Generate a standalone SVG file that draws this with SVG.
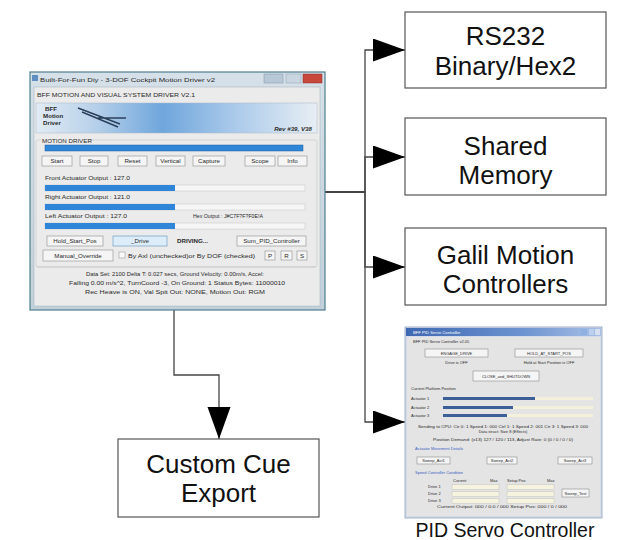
<svg xmlns="http://www.w3.org/2000/svg" width="618" height="540" viewBox="0 0 618 540">
<style>
.ui{font-family:"Liberation Sans",Arial,sans-serif;font-size:6.2px;fill:#2a2a2a}
.ps{font-family:"Liberation Sans",Arial,sans-serif;font-size:4px;fill:#2a2a2a}
.pb{font-family:"Liberation Sans",Arial,sans-serif;font-size:4px;fill:#3a5fc0}
.btn{fill:#f5f5f5;stroke:#8c8c8c;stroke-width:0.6}
.track{fill:#f6f6f6;stroke:#c4c4c4;stroke-width:0.5}
.fill{fill:#2f86d8}
.ptrack{fill:#f3f0dc}
.pfill{fill:#3d5f98}
.field{fill:#f6f3df;stroke:#b8b8b8;stroke-width:0.4}
.box{fill:#fff;stroke:#555;stroke-width:1.2}
.lbl{font-family:"Liberation Sans",Arial,sans-serif;font-size:26px;fill:#111;text-anchor:middle}
.conn{fill:none;stroke:#444;stroke-width:1.3}
.mid{text-anchor:middle}
</style>
<defs>
<marker id="ah" markerUnits="userSpaceOnUse" markerWidth="33" markerHeight="24" refX="32" refY="11.5" orient="auto">
<path d="M0,0 L32,11.5 L0,23 z" fill="#000"/>
</marker>
<linearGradient id="banner" x1="0" y1="0" x2="1" y2="0">
<stop offset="0" stop-color="#e2ebf4"/>
<stop offset="0.2" stop-color="#b9d2ea"/>
<stop offset="0.45" stop-color="#6fa6dc"/>
<stop offset="0.7" stop-color="#a9c9ea"/>
<stop offset="1" stop-color="#e8eef4"/>
</linearGradient>
<linearGradient id="frame" x1="0" y1="0" x2="0" y2="1">
<stop offset="0" stop-color="#d5e0e8"/>
<stop offset="1" stop-color="#c2d0da"/>
</linearGradient>
<linearGradient id="ptitle" x1="0" y1="0" x2="1" y2="0">
<stop offset="0" stop-color="#3e68b2"/>
<stop offset="0.6" stop-color="#6d93d0"/>
<stop offset="1" stop-color="#a8c0e6"/>
</linearGradient>
</defs>

<g id="connectors">
<path class="conn" d="M325,192 H365 V50 H405" marker-end="url(#ah)"/>
<path class="conn" d="M325,192 H365 V157 H405" marker-end="url(#ah)"/>
<path class="conn" d="M325,192 H365 V267 H405" marker-end="url(#ah)"/>
<path class="conn" d="M325,192 H365 V422 H405" marker-end="url(#ah)"/>
<path class="conn" d="M174,310 V375 H219 V439" marker-end="url(#ah)"/>
</g>

<g id="main-window">
<rect x="30" y="72" width="295" height="238" fill="url(#frame)" stroke="#4f7f90" stroke-width="1.2"/>
<rect x="32" y="75" width="6" height="6" fill="#5f8fc0"/>
<text class="ui" x="40" y="81.5" textLength="175" lengthAdjust="spacingAndGlyphs">Built-For-Fun Diy - 3-DOF Cockpit Motion Driver v2</text>
<rect x="264" y="74" width="19" height="9" fill="#b9c8d6" stroke="#7f95a8" stroke-width="0.5"/>
<rect x="286" y="74" width="15" height="9" fill="#c9d6e0" stroke="#8fa3b4" stroke-width="0.5"/>
<rect x="303" y="74" width="19" height="9" fill="#c7483c" stroke="#8a2f28" stroke-width="0.5"/>
<rect x="34" y="87" width="286" height="219" fill="#ebebeb" stroke="#9fb0bc" stroke-width="0.5"/>
<text class="ui" x="37" y="97" textLength="158" lengthAdjust="spacingAndGlyphs">BFF MOTION AND VISUAL SYSTEM DRIVER V2.1</text>
<rect x="36" y="103" width="281" height="30" fill="url(#banner)" stroke="#a9b8c6" stroke-width="0.5"/>
<text class="ui" x="45" y="111" font-size="4.8" font-weight="bold">BFF</text>
<text class="ui" x="43" y="118" font-size="4.8" font-weight="bold">Motion</text>
<text class="ui" x="43" y="125" font-size="4.8" font-weight="bold">Driver</text>
<path d="M78,108 L120,124 M82,112 L118,127 M98,118 L126,118" stroke="#2a3f5a" stroke-width="1.4" fill="none"/>
<text class="ui" x="312" y="131" font-size="5" font-weight="bold" font-style="italic" text-anchor="end">Rev #39, V38</text>
<rect x="36" y="140" width="281" height="127" rx="2" fill="none" stroke="#c9c9c9" stroke-width="0.7"/>
<rect x="41" y="137" width="46" height="6" fill="#ebebeb"/>
<text class="ui" x="42" y="142.5">MOTION DRIVER</text>
<rect x="45" y="145" width="258" height="6" class="fill" stroke="#1e5f9e" stroke-width="0.5"/>
<rect class="btn" x="42" y="156" width="30" height="10"/>
<rect class="btn" x="80" y="156" width="28" height="10"/>
<rect class="btn" x="118" y="156" width="29" height="10"/>
<rect class="btn" x="156" y="156" width="29" height="10"/>
<rect class="btn" x="193" y="156" width="32" height="10"/>
<rect class="btn" x="245" y="156" width="30" height="10"/>
<rect class="btn" x="278" y="156" width="29" height="10"/>
<text class="ui mid" x="57" y="163">Start</text>
<text class="ui mid" x="94" y="163">Stop</text>
<text class="ui mid" x="132.5" y="163">Reset</text>
<text class="ui mid" x="170.5" y="163">Vertical</text>
<text class="ui mid" x="209" y="163">Capture</text>
<text class="ui mid" x="260" y="163">Scope</text>
<text class="ui mid" x="292.5" y="163">Info</text>
<text class="ui" x="45" y="180" textLength="85" lengthAdjust="spacingAndGlyphs">Front Actuator Output : 127.0</text>
<rect class="track" x="45" y="185" width="260" height="6"/>
<rect class="fill" x="45" y="185" width="130" height="6"/>
<text class="ui" x="45" y="199" textLength="85" lengthAdjust="spacingAndGlyphs">Right Actuator Output : 121.0</text>
<rect class="track" x="45" y="204" width="260" height="6"/>
<rect class="fill" x="45" y="204" width="130" height="6"/>
<text class="ui" x="45" y="218" textLength="82" lengthAdjust="spacingAndGlyphs">Left Actuator Output : 127.0</text>
<text class="ui" x="193" y="218" textLength="70" lengthAdjust="spacingAndGlyphs">Hex Output : J#C7F?F?F0E!A</text>
<rect class="track" x="45" y="223" width="260" height="6"/>
<rect class="fill" x="45" y="223" width="130" height="6"/>
<rect class="btn" x="47" y="236" width="56" height="10"/>
<text class="ui mid" x="75" y="243">Hold_Start_Pos</text>
<rect x="113" y="236" width="54" height="10" fill="#dcecf8" stroke="#6f9fc6" stroke-width="0.7"/>
<text class="ui mid" x="140" y="243">_Drive</text>
<text class="ui" x="177" y="243" font-weight="bold">DRIVING...</text>
<rect class="btn" x="237" y="236" width="69" height="10"/>
<text class="ui mid" x="271.5" y="243">Sum_PID_Controller</text>
<rect class="btn" x="43" y="250" width="70" height="11"/>
<text class="ui mid" x="78" y="257.5">Manual_Override</text>
<rect x="119" y="252" width="6" height="6" fill="#fafafa" stroke="#8c8c8c" stroke-width="0.5"/>
<text class="ui" x="128" y="257.5" textLength="127" lengthAdjust="spacingAndGlyphs">By Axl (unchecked)or By DOF (checked)</text>
<rect class="btn" x="265" y="251" width="10" height="9"/>
<rect class="btn" x="281" y="251" width="11" height="9"/>
<rect class="btn" x="297" y="251" width="10" height="9"/>
<text class="ui mid" x="270" y="257.5">P</text>
<text class="ui mid" x="286.5" y="257.5">R</text>
<text class="ui mid" x="302" y="257.5">S</text>
<line x1="37" y1="267" x2="316" y2="267" stroke="#c4c4c4" stroke-width="0.7"/>
<text class="ui mid" x="175" y="276" textLength="178" lengthAdjust="spacingAndGlyphs">Data Set: 2100 Delta T: 0.027 secs, Ground Velocity: 0.00m/s, Accel:</text>
<text class="ui mid" x="177" y="285" textLength="216" lengthAdjust="spacingAndGlyphs">Falling 0.00 m/s^2, TurnCoord -3, On Ground: 1 Status Bytes: 11000010</text>
<text class="ui mid" x="175" y="294" textLength="180" lengthAdjust="spacingAndGlyphs">Rec Heave is ON, Val Spit Out: NONE, Motion Out: RGM</text>
</g>

<g id="rs232">
<rect class="box" x="405" y="12" width="201" height="76"/>
<text class="lbl" x="505.5" y="45">RS232</text>
<text class="lbl" x="505.5" y="75">Binary/Hex2</text>
</g>

<g id="shared-memory">
<rect class="box" x="405" y="118" width="201" height="77"/>
<text class="lbl" x="505.5" y="155">Shared</text>
<text class="lbl" x="505.5" y="184">Memory</text>
</g>

<g id="galil">
<rect class="box" x="405" y="228" width="201" height="77"/>
<text class="lbl" x="505.5" y="264">Galil Motion</text>
<text class="lbl" x="505.5" y="293">Controllers</text>
</g>

<g id="custom-cue">
<rect class="box" x="118" y="439" width="201" height="78"/>
<text class="lbl" x="218.5" y="473">Custom Cue</text>
<text class="lbl" x="218.5" y="502">Export</text>
</g>

<g id="pid-servo">
<rect x="405" y="327" width="197" height="191" fill="#d3dce8" stroke="#8ea4bd" stroke-width="0.8"/>
<rect x="406" y="328" width="195" height="8" fill="url(#ptitle)"/>
<text x="413" y="334" font-family="Liberation Sans, Arial, sans-serif" font-size="4.2" fill="#fff">BFF PID Servo Controller</text>
<rect x="581" y="329" width="6" height="6" fill="#8fb0e0"/>
<rect x="589" y="329" width="5" height="6" fill="#bcd0ee"/>
<rect x="595" y="329" width="5" height="6" fill="#d6e0f0"/>
<rect x="407" y="337" width="193" height="179" fill="#e4e4e4"/>
<text class="ps" x="413" y="343">BFF PID Servo Controller v2.05</text>
<rect class="btn" x="425" y="349" width="63" height="8"/>
<text class="ps mid" x="456.5" y="354.5">ENGAGE_DRIVE</text>
<text class="ps mid" x="456.5" y="364">Drive is OFF</text>
<rect class="btn" x="515" y="349" width="68" height="8"/>
<text class="ps mid" x="549" y="354.5">HOLD_AT_START_POS</text>
<text class="ps mid" x="549" y="364">Hold at Start Position is OFF</text>
<rect class="btn" x="473" y="371" width="66" height="10"/>
<text class="ps mid" x="506" y="377.5">CLOSE_and_SHUTDOWN</text>
<text class="ps" x="411" y="390">Current Platform Position</text>
<text class="ps" x="411" y="400">Actuator 1</text>
<text class="ps" x="411" y="409">Actuator 2</text>
<text class="ps" x="411" y="417">Actuator 3</text>
<rect class="ptrack" x="443" y="397" width="150" height="3"/>
<rect class="pfill" x="443" y="397" width="92" height="3"/>
<rect class="ptrack" x="443" y="406" width="150" height="3"/>
<rect class="pfill" x="443" y="406" width="70" height="3"/>
<rect class="ptrack" x="443" y="414" width="150" height="3"/>
<rect class="pfill" x="443" y="414" width="64" height="3"/>
<text class="ps mid" x="503" y="428" textLength="170" lengthAdjust="spacingAndGlyphs">Sending to CPU: Ctr 0: 1 Speed 1: 000 Ctrl 1: 1 Speed 2: 001 Ctr 3: 1 Speed 3: 000</text>
<text class="ps mid" x="503" y="433">Data struct: Size 8 (Effects)</text>
<text class="ps mid" x="503" y="441" textLength="140" lengthAdjust="spacingAndGlyphs">Position Demand: (x13) 127 / 120 / 113, Adjust Rate: 0 (0 / 0 / 0 / 0)</text>
<text class="pb" x="415" y="450">Actuator Movement Details</text>
<rect class="btn" x="417" y="457" width="33" height="7"/>
<text class="ps mid" x="433.5" y="462">Sweep_Act1</text>
<rect class="btn" x="487" y="457" width="30" height="7"/>
<text class="ps mid" x="502" y="462">Sweep_Act2</text>
<rect class="btn" x="558" y="457" width="34" height="7"/>
<text class="ps mid" x="575" y="462">Sweep_Act3</text>
<text class="pb" x="415" y="474">Speed Controller Condition</text>
<text class="ps" x="453" y="482">Current</text>
<text class="ps" x="490" y="482">Max</text>
<text class="ps" x="507" y="482">Setup Pos</text>
<text class="ps" x="547" y="482">Max</text>
<text class="ps" x="428" y="488">Drive 1</text>
<text class="ps" x="428" y="495">Drive 2</text>
<text class="ps" x="428" y="502">Drive 3</text>
<rect class="field" x="452" y="484.5" width="47" height="5"/>
<rect class="field" x="452" y="491.5" width="47" height="5"/>
<rect class="field" x="452" y="498.5" width="47" height="5"/>
<rect class="field" x="507" y="484.5" width="47" height="5"/>
<rect class="field" x="507" y="491.5" width="47" height="5"/>
<rect class="field" x="507" y="498.5" width="47" height="5"/>
<rect class="btn" x="562" y="489" width="27" height="8"/>
<text class="ps mid" x="575.5" y="494.5">Sweep_Test</text>
<text class="ps mid" x="502" y="508" textLength="130" lengthAdjust="spacingAndGlyphs">Current Output: 000 / 0.0 / 000  Setup Pos: 000 / 0 / 000</text>
<text x="505" y="537" font-family="Liberation Sans, Arial, sans-serif" font-size="19.5" fill="#111" text-anchor="middle">PID Servo Controller</text>
</g>
</svg>
